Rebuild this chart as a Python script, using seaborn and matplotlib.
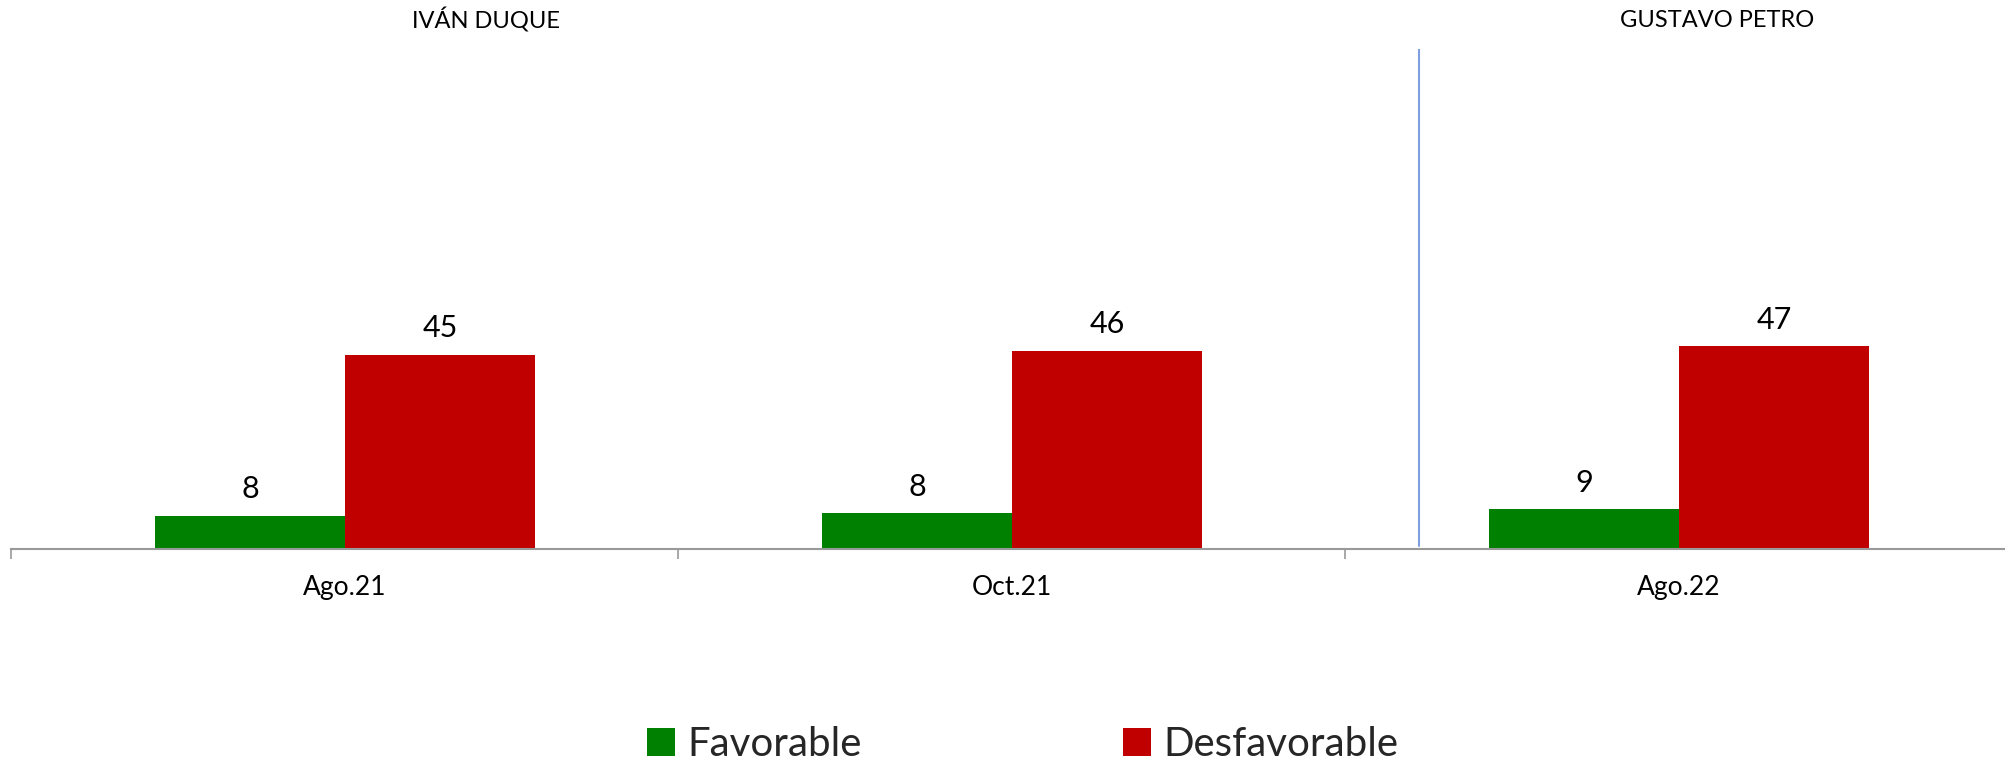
import pandas as pd
import matplotlib.pyplot as plt
import seaborn as sns
from matplotlib.ticker import FixedLocator
from matplotlib.patches import Patch

# Data
periodos = ['Ago.21', 'Oct.21', 'Ago.22']
favorable = [7.7, 8.3, 9.2]
desfavorable = [45, 46, 47]
series = ['Favorable', 'Desfavorable']
colores = ['#008000', '#C00000']
gobiernos = ['IVÁN DUQUE', 'GUSTAVO PETRO']

df = pd.DataFrame({
    'periodo': periodos * 2,
    'valor': favorable + desfavorable,
    'serie': [series[0]] * len(periodos) + [series[1]] * len(periodos),
})

sns.set_theme(style='white')
plt.rcParams['font.family'] = ['Lato', 'DejaVu Sans']

fig = plt.figure(figsize=(20.05, 7.71), dpi=100)
ax = fig.add_axes([0.0057, 0.288, 0.998, 0.649])

sns.barplot(data=df, x='periodo', y='valor', hue='serie', order=periodos,
            hue_order=series, palette=colores, width=0.57, saturation=1,
            linewidth=0, legend=False, ax=ax)

# value labels on top of each bar
for cont in ax.containers:
    ax.bar_label(cont, fmt='{:.0f}', padding=9, fontsize=22, color='black')

ax.set_xlim(-0.5, 2.5)
ax.set_ylim(0, 116)
ax.set_xlabel('')
ax.set_ylabel('')
ax.set_yticks([])

# category separators as minor ticks
ax.xaxis.set_minor_locator(FixedLocator([-0.5, 0.5, 1.5, 2.5]))
ax.tick_params(axis='x', which='major', length=0, pad=19, labelsize=19, labelcolor='black')
ax.tick_params(axis='x', which='minor', direction='out', length=7, width=1.2, color='#999999', bottom=True)

for s in ['left', 'top', 'right']:
    ax.spines[s].set_visible(False)
ax.spines['bottom'].set_color('#999999')
ax.spines['bottom'].set_linewidth(1.5)

# separator between the two governments
ax.axvline(1.61, ymin=0.005, ymax=1, color='#7F9FDF', linewidth=1.5)

# government headers
ax.text(0.212, 1.057, gobiernos[0], transform=ax.get_xaxis_transform(),
        ha='center', va='center', fontsize=17, color='black')
ax.text(2.057, 1.057, gobiernos[1], transform=ax.get_xaxis_transform(),
        ha='center', va='center', fontsize=17, color='black')

handles = [Patch(facecolor=c, edgecolor='none', label=s) for c, s in zip(colores, series)]
fig.legend(handles=handles, loc='center', bbox_to_anchor=(0.51, 0.034), ncol=2,
           frameon=False, fontsize=29, handlelength=0.7, handleheight=0.7,
           handletextpad=0.3, columnspacing=6.5)

fig.savefig('out.png', dpi=100)
